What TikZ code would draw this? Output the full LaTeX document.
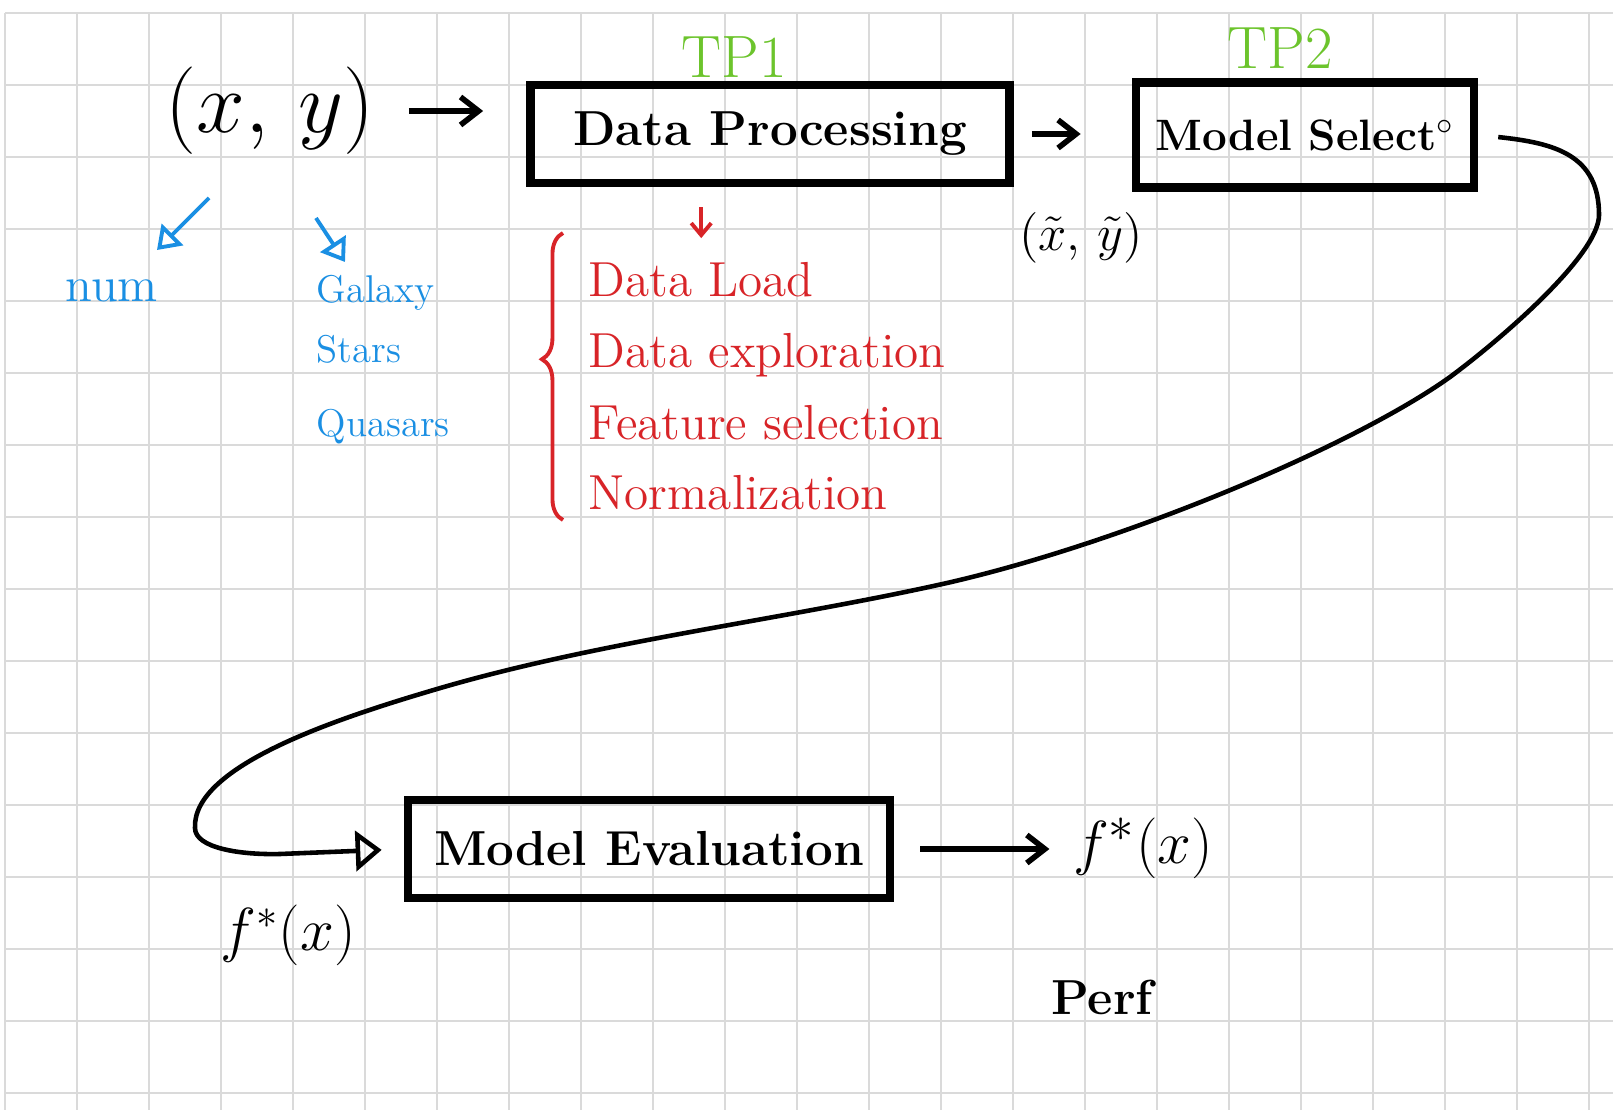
\documentclass[tikz,border=0pt]{standalone}
\usepackage{amsmath,amssymb}
\usepackage{xcolor}
\usepackage{tikz}
\usetikzlibrary{arrows.meta}
\usetikzlibrary{backgrounds}
\usetikzlibrary{decorations.pathreplacing}
\usetikzlibrary{calc}
\pgfdeclarelayer{edgelayer}
\pgfdeclarelayer{nodelayer}
\pgfsetlayers{background,edgelayer,nodelayer,main}
\definecolor{gridgray}{RGB}{218,218,218}
\definecolor{tpgreen}{RGB}{108,196,44}
\definecolor{penred}{RGB}{216,36,40}
\definecolor{penblue}{RGB}{26,143,227}
\tikzstyle{none}=[inner sep=0mm]
\tikzstyle{gridline}=[draw=gridgray,line width=0.45pt]
\tikzstyle{stage}=[draw=black,line width=2.4pt,inner sep=0pt,font=\fontsize{14}{16}\selectfont\bfseries]
\tikzstyle{tp}=[inner sep=0pt,text=tpgreen,font=\fontsize{17}{19}\selectfont]
\tikzstyle{rl}=[inner sep=0pt,anchor=base west,text=penred,font=\fontsize{14}{16}\selectfont]
\tikzstyle{bl}=[inner sep=0pt,anchor=base west,text=penblue,font=\fontsize{11}{13}\selectfont]
\tikzstyle{mth}=[inner sep=0pt]
\tikzstyle{harrow}=[line width=1.6pt,-{Straight Barb[length=1.8mm,width=2.8mm]}]
\tikzstyle{rarrow}=[draw=penred,line width=1.1pt,-{Straight Barb[length=1.2mm,width=2mm]}]
\tikzstyle{barrow}=[draw=penblue,line width=1.1pt,-{Triangle[open,length=2.2mm,width=3mm]}]
\tikzstyle{sweep}=[line width=1.3pt,-{Triangle[open,length=2.6mm,width=4mm]}]
\tikzstyle{redbrace}=[draw=penred,line width=1.1pt,decorate,decoration={brace,amplitude=6pt,aspect=0.56}]

\begin{document}
\begin{tikzpicture}[x=0.01cm,y=-0.01cm]
	\useasboundingbox (0,0) rectangle (1613,1110);
	\begin{pgfonlayer}{background}
		\fill[white] (0,0) rectangle (1613,1110);
		\foreach \gx in {5,77,...,1589} \draw[gridline] (\gx,13) -- (\gx,1110);
		\foreach \gy in {13,85,...,1093} \draw[gridline] (5,\gy) -- (1613,\gy);
	\end{pgfonlayer}
	\begin{pgfonlayer}{nodelayer}
		\node [style=mth, font=\fontsize{26}{30}\selectfont] (xy) at (270, 111) {$(x,\,y)$};
		\node [style=stage, minimum width=4.79cm, minimum height=0.98cm] (dp) at (770, 134) {Data Processing};
		\node [style=stage, minimum width=3.38cm, minimum height=1.05cm, font=\fontsize{12.5}{15}\selectfont\bfseries] (ms) at (1305, 135) {Model Select$^{\circ}$};
		\node [style=stage, minimum width=4.82cm, minimum height=0.98cm] (me) at (649, 849) {Model Evaluation};
		\node [style=tp] (tp1) at (734, 57) {TP1};
		\node [style=tp] (tp2) at (1280, 48) {TP2};
		\node [style=mth, font=\fontsize{15}{18}\selectfont] (xtyt) at (1081, 238) {$(\tilde{x},\,\tilde{y})$};
		\node [style=rl] (load) at (588, 297) {Data Load};
		\node [style=rl] (explore) at (588, 368) {Data exploration};
		\node [style=rl] (feature) at (588, 440) {Feature selection};
		\node [style=rl] (norm) at (588, 510) {Normalization};
		\node [style=bl, font=\fontsize{14}{16}\selectfont] (num) at (65, 302) {num};
		\node [style=bl] (galaxy) at (316, 303) {Galaxy};
		\node [style=bl] (stars) at (316, 363) {Stars};
		\node [style=bl] (quasars) at (316, 437) {Quasars};
		\node [style=mth, font=\fontsize{17}{20}\selectfont] (fin) at (288, 935) {$f^*(x)$};
		\node [style=mth, font=\fontsize{19}{22}\selectfont] (fout) at (1143, 848) {$f^*(x)$};
		\node [style=mth, font=\fontsize{14}{16}\selectfont\bfseries] (perf) at (1102, 997) {Perf};
		\coordinate (xfoot) at (209, 198);
		\coordinate (numtip) at (157, 250);
		\coordinate (yfoot) at (316, 218);
		\coordinate (galtip) at (345, 262);
		\coordinate (bracetop) at (563, 233);
		\coordinate (bracebot) at (563, 520);
	\end{pgfonlayer}
	\begin{pgfonlayer}{edgelayer}
		\draw [style=harrow, shorten <=0.34cm, shorten >=0.43cm] (xy.east) to (xy.east -| dp.west);
		\draw [style=harrow, shorten <=0.18cm, shorten >=0.51cm] (dp.east) to (dp.east -| ms.west);
		\draw [style=harrow, shorten <=0.26cm, shorten >=0.23cm] (me.east) to (me.east -| fout.west);
		\draw [style=rarrow, shorten <=0.2cm, shorten >=0.24cm] (dp.south -| load.north) to (load.north);
		\draw [style=redbrace] (bracebot) to (bracetop);
		\draw [style=barrow] (xfoot) to (numtip);
		\draw [style=barrow] (yfoot) to (galtip);
		% long sweep back to the evaluation box
		\draw [style=sweep, shorten <=0.2cm, shorten >=0.22cm] (ms.east)
			.. controls (1555, 143) and (1599, 155) .. (1599, 215)
			.. controls (1599, 255) and (1500, 340) .. (1450, 377)
			.. controls (1352, 447) and (1122, 543) .. (947, 583)
			.. controls (782, 620) and (600, 641) .. (437, 689)
			.. controls (342, 717) and (192, 765) .. (195, 828)
			.. controls (195, 848) and (240, 855) .. (280, 854)
			-- (me.west);
	\end{pgfonlayer}
\end{tikzpicture}
\end{document}
